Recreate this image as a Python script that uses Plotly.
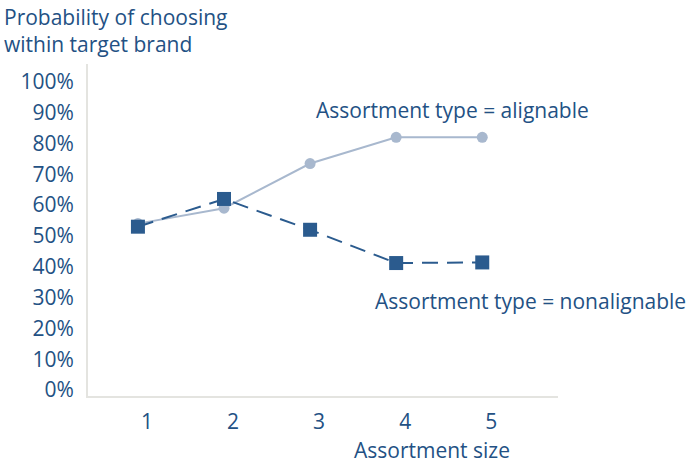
import plotly.graph_objects as go

sizes = [1, 2, 3, 4, 5]
size_labels = ["1", "2", "3", "4", "5"]
alignable = [0.54, 0.59, 0.735, 0.82, 0.82]
nonalignable = [0.53, 0.62, 0.52, 0.412, 0.414]
y_ticks = [i / 10 for i in range(11)]
y_tick_labels = [f"{i*10}%" for i in range(11)]

TEXT = "#235184"
FONT = "Open Sans"
FS = 21

fig = go.Figure()
fig.add_trace(go.Scatter(
    x=sizes, y=alignable, mode="lines+markers",
    line=dict(color="#a8b8ce", width=2),
    marker=dict(symbol="circle", size=11, color="#a8b8ce"),
    showlegend=False, hoverinfo="skip"))
fig.add_trace(go.Scatter(
    x=sizes, y=nonalignable, mode="lines+markers",
    line=dict(color="#2b5b8e", width=2, dash="16px,9px"),
    marker=dict(symbol="square", size=14, color="#2b5b8e"),
    showlegend=False, hoverinfo="skip"))

fig.update_layout(
    width=687, height=463,
    margin=dict(l=88, r=129, t=64, b=67),
    paper_bgcolor="white", plot_bgcolor="white",
    font=dict(family=FONT, size=FS, color=TEXT),
    xaxis=dict(range=[0.42, 5.88], tickvals=sizes, ticktext=size_labels,
               showgrid=False, zeroline=False, showline=True,
               linecolor="#e4e4e0", linewidth=2, ticks="",
               ticklabelshift=9, ticklabelstandoff=6,
               tickfont=dict(size=FS, color=TEXT)),
    yaxis=dict(range=[-0.0195, 1.058], tickvals=y_ticks, ticktext=y_tick_labels,
               showgrid=False, zeroline=False, showline=True,
               linecolor="#e4e4e0", linewidth=2, ticks="",
               ticklabelstandoff=8,
               tickfont=dict(size=FS, color=TEXT)),
)

fig.add_annotation(text="Probability of choosing<br>within target brand",
                   xref="paper", yref="paper", x=-86/470, y=1 + 63/332,
                   xanchor="left", yanchor="top", align="left", showarrow=False,
                   font=dict(size=FS, color=TEXT))
fig.add_annotation(text="Assortment type = alignable", xref="x", yref="y",
                   x=4.66, y=0.909, xanchor="center", yanchor="middle",
                   showarrow=False, font=dict(size=FS, color=TEXT))
fig.add_annotation(text="Assortment type = nonalignable", xref="x", yref="y",
                   x=5.56, y=0.289, xanchor="center", yanchor="middle",
                   showarrow=False, font=dict(size=FS, color=TEXT))
fig.add_annotation(text="Assortment size", xref="paper", yref="paper",
                   x=(432 - 88) / 470, y=-54 / 332, xanchor="center", yanchor="middle",
                   showarrow=False, font=dict(size=FS, color=TEXT))

fig.write_html("out.html")
